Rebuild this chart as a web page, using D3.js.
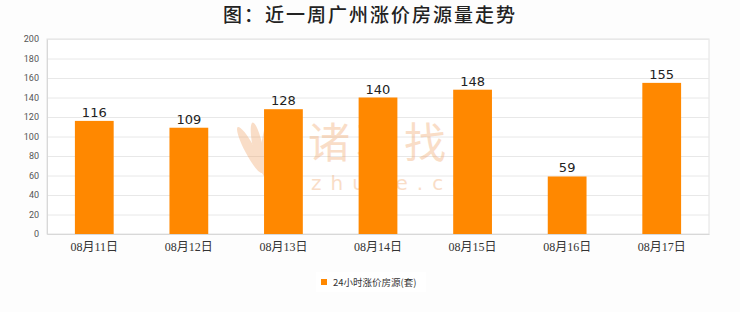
<!DOCTYPE html>
<html>
<head>
<meta charset="utf-8">
<script src="https://cdn.jsdelivr.net/npm/d3@7"></script>
<style>
  body { margin: 0; background: #fdfdfd; }
  svg { display: block; }
</style>
</head>
<body>
<div id="chart"></div>
<script>
var titleText = "图：近一周广州涨价房源量走势";
var days = ["08月11日", "08月12日", "08月13日", "08月14日", "08月15日", "08月16日", "08月17日"];
var counts = [116, 109, 128, 140, 148, 59, 155];
var yTicks = [0, 20, 40, 60, 80, 100, 120, 140, 160, 180, 200];
var seriesName = "24小时涨价房源(套)";

var width = 740, height = 312;
var margin = {left: 47, right: 31, top: 39, bottom: 78};
var barColor = "#ff8800";

var svg = d3.select("#chart").append("svg")
  .attr("width", width)
  .attr("height", height);

svg.append("rect").attr("width", width).attr("height", height).attr("fill", "#fdfdfd");

var x = d3.scaleBand()
  .domain(days)
  .range([margin.left, width - margin.right])
  .paddingInner(0.59)
  .paddingOuter(0.295);

var y = d3.scaleLinear()
  .domain([0, 200])
  .range([height - margin.bottom, margin.top]);

// title
svg.append("text")
  .text(titleText)
  .attr("x", 370)
  .attr("y", 22)
  .attr("text-anchor", "middle")
  .attr("font-family", "'Noto Sans CJK SC', sans-serif")
  .attr("font-size", "19px")
  .attr("font-weight", "500")
  .attr("letter-spacing", "2px")
  .attr("fill", "#222");

// plot background + grid
svg.append("rect")
  .attr("x", margin.left)
  .attr("y", margin.top)
  .attr("width", width - margin.right - margin.left)
  .attr("height", y(0) - margin.top)
  .attr("fill", "#ffffff")
  .attr("stroke", "#e2e2e2");

svg.selectAll("line.grid")
  .data(yTicks)
  .enter()
  .append("line")
  .attr("class", "grid")
  .attr("x1", margin.left)
  .attr("x2", width - margin.right)
  .attr("y1", function(d) { return y(d) + 0.5; })
  .attr("y2", function(d) { return y(d) + 0.5; })
  .attr("stroke", "#e8e8e8");

// watermark
var wm = svg.append("g").attr("opacity", 0.35);
wm.append("text")
  .text("诸葛找房")
  .attr("x", 308)
  .attr("y", 158)
  .attr("font-family", "'Noto Sans CJK SC', sans-serif")
  .attr("font-size", "42px")
  .attr("letter-spacing", "6px")
  .attr("fill", "#f0a060");
wm.append("text")
  .text("zhuge.com")
  .attr("x", 311)
  .attr("y", 190)
  .attr("font-family", "'DejaVu Sans', sans-serif")
  .attr("font-size", "20px")
  .attr("letter-spacing", "9px")
  .attr("fill", "#f0a060");
[[-28, 250, 150], [-12, 258, 148], [4, 266, 150]].forEach(function(p) {
  wm.append("ellipse")
    .attr("cx", p[1])
    .attr("cy", p[2])
    .attr("rx", 5)
    .attr("ry", 26)
    .attr("transform", "rotate(" + p[0] + "," + p[1] + "," + p[2] + ")")
    .attr("fill", "#f0a060");
});

// y axis
var yAxis = svg.append("g")
  .attr("transform", "translate(" + margin.left + ",0)")
  .call(d3.axisLeft(y).tickValues(yTicks).tickSize(0).tickPadding(8));
yAxis.select(".domain").attr("stroke", "#d8d8d8");
yAxis.selectAll("text")
  .attr("font-family", "Roboto, sans-serif")
  .attr("font-size", "9px")
  .attr("fill", "#555");

// x axis
var xAxis = svg.append("g")
  .attr("transform", "translate(0," + y(0) + ")")
  .call(d3.axisBottom(x).tickSize(0).tickPadding(8));
xAxis.select(".domain").attr("stroke", "#d8d8d8");
xAxis.selectAll("text")
  .attr("font-family", "'Liberation Serif', 'Noto Sans CJK SC', serif")
  .attr("font-size", "12px")
  .attr("fill", "#333");

// bars
svg.selectAll("rect.bar")
  .data(counts)
  .enter()
  .append("rect")
  .attr("class", "bar")
  .attr("x", function(d, i) { return x(days[i]); })
  .attr("y", function(d) { return y(d); })
  .attr("width", x.bandwidth())
  .attr("height", function(d) { return y(0) - y(d); })
  .attr("fill", barColor);

svg.selectAll("text.val")
  .data(counts)
  .enter()
  .append("text")
  .attr("class", "val")
  .text(function(d) { return d; })
  .attr("x", function(d, i) { return x(days[i]) + x.bandwidth() / 2; })
  .attr("y", function(d) { return y(d) - 4; })
  .attr("text-anchor", "middle")
  .attr("font-family", "'DejaVu Sans', sans-serif")
  .attr("font-size", "13px")
  .attr("fill", "#222");

// legend
var legend = svg.append("g").attr("transform", "translate(316,272)");
legend.append("rect")
  .attr("width", 110).attr("height", 20)
  .attr("fill", "#ffffff");
legend.append("rect")
  .attr("x", 5).attr("y", 7)
  .attr("width", 6).attr("height", 6)
  .attr("fill", barColor);
legend.append("text")
  .text(seriesName)
  .attr("x", 17)
  .attr("y", 13.5)
  .attr("font-family", "'Noto Sans CJK SC', sans-serif")
  .attr("font-size", "9.5px")
  .attr("fill", "#333");
</script>
</body>
</html>
